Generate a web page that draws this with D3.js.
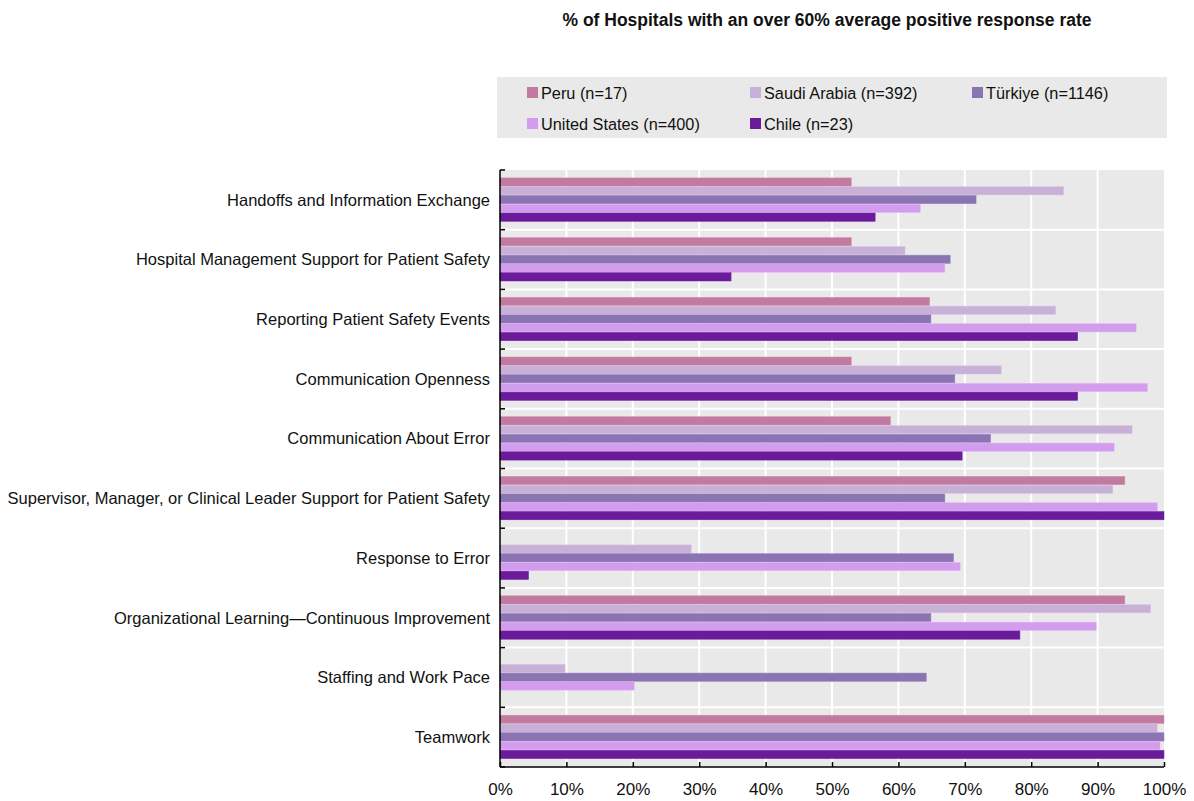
<!DOCTYPE html>
<html>
<head>
<meta charset="utf-8">
<script src="https://cdn.jsdelivr.net/npm/d3@7"></script>
<style>
  body { margin: 0; background: #fff; }
  svg { display: block; font-family: "Liberation Sans Narrow", "Arial Narrow", "Liberation Sans", sans-serif; }
</style>
</head>
<body>
<svg id="chart" width="1194" height="801"></svg>
<script>
var categories = [
  "Handoffs and Information Exchange",
  "Hospital Management Support for Patient Safety",
  "Reporting Patient Safety Events",
  "Communication Openness",
  "Communication About Error",
  "Supervisor, Manager, or Clinical Leader Support for Patient Safety",
  "Response to Error",
  "Organizational Learning\u2014Continuous Improvement",
  "Staffing and Work Pace",
  "Teamwork"
];
var seriesNames = ["Peru (n=17)", "Saudi Arabia (n=392)", "T\u00fcrkiye (n=1146)", "United States (n=400)", "Chile (n=23)"];
var seriesColors = ["#c27ba0", "#c8b1d6", "#8b74b2", "#d29ded", "#6a1b9a"];

var peru    = [52.9, 52.9, 64.7, 52.9, 58.8, 94.1, 0, 94.1, 0, 100];
var saudi   = [84.9, 61.0, 83.7, 75.5, 95.2, 92.3, 28.8, 98.0, 9.8, 99.0];
var turkiye = [71.7, 67.8, 64.9, 68.5, 73.9, 67.0, 68.3, 64.9, 64.2, 100];
var us      = [63.3, 67.0, 95.8, 97.5, 92.5, 99.0, 69.3, 89.8, 20.2, 99.4];
var chile   = [56.5, 34.8, 87.0, 87.0, 69.6, 100, 4.3, 78.3, 0, 100];
var seriesValues = [peru, saudi, turkiye, us, chile];

var xTicks = [0, 10, 20, 30, 40, 50, 60, 70, 80, 90, 100];

var plotL = 500, plotR = 1164, plotT = 170, plotB = 767;

var svg = d3.select("#chart");

var x = d3.scaleLinear().domain([0, 100]).range([plotL, plotR]);
var y = d3.scaleBand().domain(categories).range([plotT, plotB]);
var inner = d3.scaleBand().domain(d3.range(seriesNames.length))
  .range([0, y.bandwidth()]).paddingOuter(0.9).paddingInner(0);

// title
svg.append("text")
  .attr("x", 827).attr("y", 26)
  .attr("text-anchor", "middle")
  .attr("font-size", 17.5).attr("font-weight", "bold")
  .attr("fill", "#111")
  .text("% of Hospitals with an over 60% average positive response rate");

// legend
var legend = svg.append("g");
legend.append("rect").attr("x", 497).attr("y", 77).attr("width", 670).attr("height", 61).attr("fill", "#e9e9e9");
var legendPos = [[527, 93], [750, 93], [972, 93], [527, 124], [750, 124]];
seriesNames.forEach(function(name, i) {
  var g = legend.append("g").attr("transform", "translate(" + legendPos[i][0] + "," + legendPos[i][1] + ")");
  g.append("rect").attr("x", 0).attr("y", -6).attr("width", 11).attr("height", 11).attr("fill", seriesColors[i]);
  g.append("text").attr("x", 14).attr("y", 0).attr("dy", "0.35em")
    .attr("font-size", 16.3).attr("fill", "#111").text(name);
});

// plot background
svg.append("rect").attr("x", plotL).attr("y", plotT).attr("width", plotR - plotL).attr("height", plotB - plotT).attr("fill", "#e9e9e9");

// grid
svg.append("g").selectAll("line").data(xTicks.slice(1, -1)).enter().append("line")
  .attr("x1", function(d) { return x(d); }).attr("x2", function(d) { return x(d); })
  .attr("y1", plotT).attr("y2", plotB)
  .attr("stroke", "#fff").attr("stroke-width", 2);
svg.append("g").selectAll("line").data(categories.slice(1)).enter().append("line")
  .attr("x1", plotL).attr("x2", plotR)
  .attr("y1", function(d) { return y(d); }).attr("y2", function(d) { return y(d); })
  .attr("stroke", "#fff").attr("stroke-width", 2);

// bars
seriesValues.forEach(function(vals, s) {
  svg.append("g").selectAll("rect").data(vals).enter().append("rect")
    .attr("x", x(0))
    .attr("y", function(d, i) { return y(categories[i]) + inner(s); })
    .attr("width", function(d) { return x(d) - x(0); })
    .attr("height", inner.bandwidth() - 0.5)
    .attr("fill", seriesColors[s])
    .attr("stroke", d3.color(seriesColors[s]).brighter(0.3))
    .attr("stroke-width", 0.5);
});

// y axis
var yAxis = svg.append("g").attr("transform", "translate(" + plotL + ",0)");
yAxis.append("line").attr("x1", 0).attr("x2", 0).attr("y1", plotT).attr("y2", plotB).attr("stroke", "#000").attr("stroke-width", 1.5);
var bounds = categories.map(function(c) { return y(c); }).concat([plotB]);
yAxis.selectAll(".tk").data(bounds).enter().append("line")
  .attr("x1", 0).attr("x2", 5)
  .attr("y1", function(d) { return d; }).attr("y2", function(d) { return d; })
  .attr("stroke", "#000").attr("stroke-width", 1.5);
yAxis.selectAll("text").data(categories).enter().append("text")
  .attr("x", -10)
  .attr("y", function(d) { return y(d) + y.bandwidth() / 2; })
  .attr("dy", "0.35em")
  .attr("text-anchor", "end")
  .attr("font-size", 16.5).attr("fill", "#111")
  .text(function(d) { return d; });

// x axis
var xAxis = svg.append("g").attr("transform", "translate(0," + plotB + ")")
  .call(d3.axisBottom(x).tickValues(xTicks).tickSize(-5).tickPadding(16).tickFormat(function(d) { return d + "%"; }));
xAxis.select(".domain").remove();
xAxis.append("line").attr("x1", plotL).attr("x2", plotR).attr("y1", 0).attr("y2", 0).attr("stroke", "#000").attr("stroke-width", 1.5);
xAxis.selectAll(".tick line").attr("stroke", "#000").attr("stroke-width", 1.5);
xAxis.selectAll(".tick text").attr("font-size", 17).attr("fill", "#111")
  .attr("font-family", "'Liberation Sans Narrow', 'Arial Narrow', sans-serif");
</script>
</body>
</html>
